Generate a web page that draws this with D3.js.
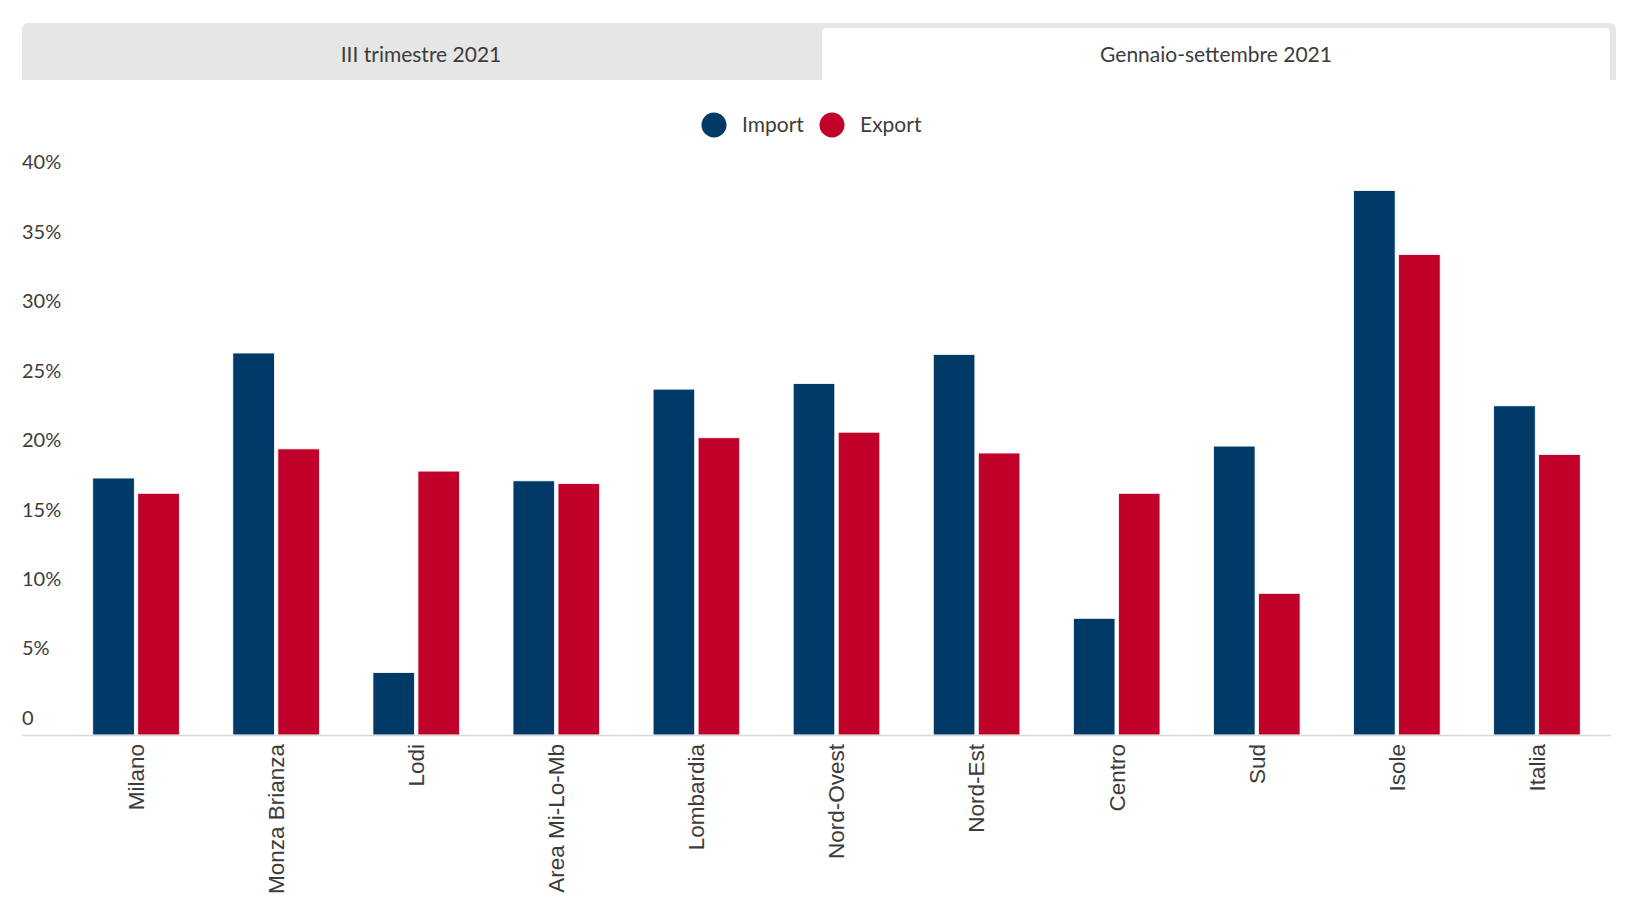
<!DOCTYPE html>
<html>
<head>
<meta charset="utf-8">
<script src="https://cdn.jsdelivr.net/npm/d3@7"></script>
<style>
  body { margin: 0; background: #fff; }
  svg { display: block; }
</style>
</head>
<body>
<svg width="1640" height="916"></svg>
<script>
// dati (variazione %)
const categories = ["Milano", "Monza Brianza", "Lodi", "Area Mi-Lo-Mb", "Lombardia",
  "Nord-Ovest", "Nord-Est", "Centro", "Sud", "Isole", "Italia"];
const seriesNames = ["Import", "Export"];
const importValues = [18.5, 27.5, 4.5, 18.3, 24.9, 25.3, 27.4, 8.4, 20.8, 39.2, 23.7];
const exportValues = [17.4, 20.6, 19.0, 18.1, 21.4, 21.8, 20.3, 17.4, 10.2, 34.6, 20.2];
const yTicks = [0, 5, 10, 15, 20, 25, 30, 35, 40];
const tabLabels = ["III trimestre 2021", "Gennaio-settembre 2021"];

const colors = { Import: "#013a66", Export: "#c0022b" };
const textColor = "#3c3c3c";
const titleFont = "Lato, 'Open Sans', sans-serif";

const svg = d3.select("svg");

// --- schede in alto
const tabs = svg.append("g");
tabs.append("path")
  .attr("d", "M22,80 V30 Q22,23 29,23 H1609 Q1616,23 1616,30 V80 Z")
  .attr("fill", "#e6e6e6");
tabs.append("path")
  .attr("d", "M822,80 V33 Q822,28 827,28 H1605 Q1610,28 1610,33 V80 Z")
  .attr("fill", "#fff");
tabs.selectAll("text")
  .data(tabLabels)
  .enter()
  .append("text")
  .attr("x", (d, i) => i === 0 ? 421 : 1216)
  .attr("y", 55)
  .attr("dy", "0.35em")
  .attr("text-anchor", "middle")
  .attr("font-family", titleFont)
  .attr("font-size", "21px")
  .attr("fill", textColor)
  .text(d => d);

// --- legenda
const legend = svg.append("g");
const legendX = [714, 832];
seriesNames.forEach((s, i) => {
  legend.append("circle")
    .attr("cx", legendX[i])
    .attr("cy", 125)
    .attr("r", 12.5)
    .attr("fill", colors[s]);
  legend.append("text")
    .attr("x", legendX[i] + 28)
    .attr("y", 125)
    .attr("dy", "0.35em")
    .attr("font-family", titleFont)
    .attr("font-size", "21px")
    .attr("fill", textColor)
    .text(s);
});

// --- scale
const x = d3.scaleBand()
  .domain(categories)
  .range([66, 1607]);

const x1 = d3.scaleBand()
  .domain(seriesNames)
  .range([x.bandwidth() / 2 - 43.3, x.bandwidth() / 2 + 43.3])
  .paddingInner(0.076);

const y = d3.scaleLinear()
  .domain([0, 40])
  .range([735, 179.4]);

// asse y (etichette sopra la linea del tick)
const yAxis = svg.append("g")
  .attr("transform", "translate(22,0)")
  .call(d3.axisRight(y)
    .tickValues(yTicks)
    .tickSize(0)
    .tickFormat(d => d === 0 ? "0" : d + "%"));
yAxis.select(".domain").remove();
yAxis.selectAll("text")
  .attr("x", 0)
  .attr("y", -17)
  .attr("font-family", titleFont)
  .attr("font-size", "20px")
  .attr("fill", textColor);

// --- barre
const rows = categories.map((c, i) => ({ cat: c, Import: importValues[i], Export: exportValues[i] }));

const groups = svg.append("g")
  .selectAll("g")
  .data(rows)
  .enter()
  .append("g")
  .attr("transform", d => `translate(${x(d.cat)},0)`);

groups.selectAll("rect")
  .data(d => seriesNames.map(s => ({ key: s, value: d[s] })))
  .enter()
  .append("rect")
  .attr("x", d => x1(d.key))
  .attr("y", d => y(d.value))
  .attr("width", x1.bandwidth())
  .attr("height", d => y(0) - y(d.value))
  .attr("fill", d => colors[d.key])
  .attr("stroke", "#fff")
  .attr("stroke-width", 0.8);

// --- asse x
svg.append("line")
  .attr("x1", 22)
  .attr("x2", 1611)
  .attr("y1", 735.5)
  .attr("y2", 735.5)
  .attr("stroke", "#d9d9d9")
  .attr("stroke-width", 1.5);

const xAxis = svg.append("g")
  .attr("transform", "translate(0,735)")
  .call(d3.axisBottom(x).tickSize(0));
xAxis.select(".domain").remove();
xAxis.selectAll("text")
  .attr("transform", "rotate(-90)")
  .attr("text-anchor", "end")
  .attr("x", -9)
  .attr("y", 0)
  .attr("dy", "0.35em")
  .attr("font-family", "'Liberation Sans', Arial, sans-serif")
  .attr("font-size", "22.5px")
  .attr("fill", textColor);
</script>
</body>
</html>
